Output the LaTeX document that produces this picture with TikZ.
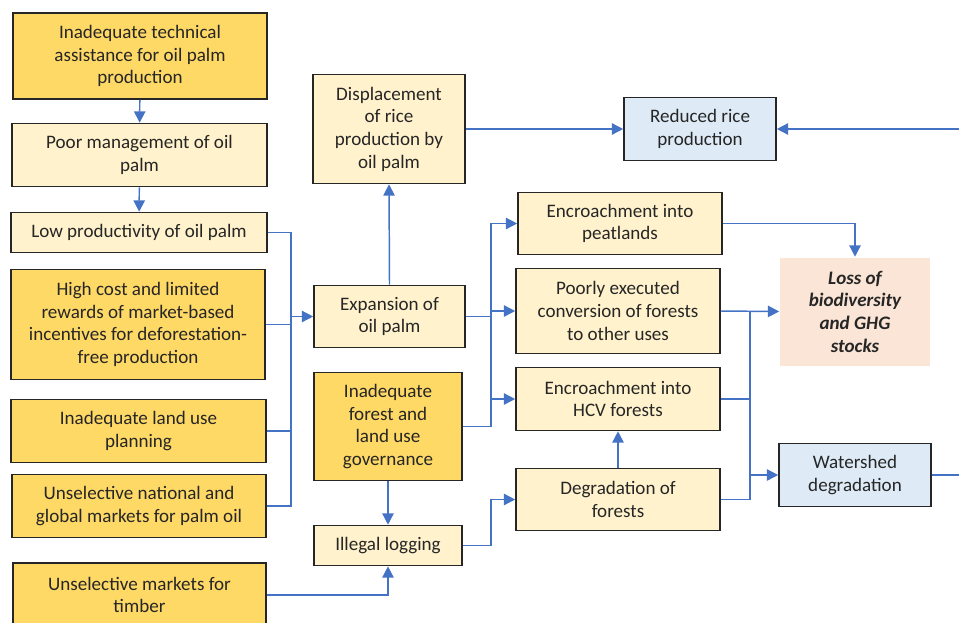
\documentclass[tikz,border=0pt]{standalone}
\usepackage{fontspec}
\setmainfont{Carlito}
\usetikzlibrary{arrows.meta}
\definecolor{dkY}{HTML}{FFD966}
\definecolor{ltY}{HTML}{FFF2CC}
\definecolor{ltB}{HTML}{DEEBF7}
\definecolor{pch}{HTML}{FBE5D6}
\definecolor{lnB}{HTML}{4472C4}
\definecolor{txt}{HTML}{262626}
\tikzset{
  box/.style={draw=txt, line width=1.2pt, align=center, inner sep=1pt, text=txt,
    font=\fontsize{14.3}{17}\selectfont},
  dk/.style={box, fill=dkY},
  lt/.style={box, fill=ltY},
  bl/.style={box, fill=ltB},
  pk/.style={box, draw=none, fill=pch, font=\fontsize{14.3}{17}\selectfont\bfseries\itshape},
  ln/.style={draw=lnB, line width=1.1pt},
  arr/.style={ln, -{Triangle[length=8.5pt,width=8.5pt]}},
  wh/.style 2 args={minimum width=#1*0.75pt, minimum height=#2*0.75pt},
}
\begin{document}
\begin{tikzpicture}[x=0.75pt,y=-0.75pt]
\useasboundingbox (0,0) rectangle (959,622);
\fill[white] (0,0) rectangle (959,622);
% left column
\node[dk,wh={254}{86}] (A) at (140,56) {Inadequate technical\\assistance for oil palm\\production};
\node[lt,wh={255}{63}] (B) at (139.5,155) {Poor management of oil\\palm};
\node[lt,wh={256}{40}] (C) at (139,232.5) {Low productivity of oil palm};
\node[dk,wh={254}{110}] (D) at (138,324.5) {High cost and limited\\rewards of market-based\\incentives for deforestation-\\free production};
\node[dk,wh={255}{63}] (E) at (138.5,431) {Inadequate land use\\planning};
\node[dk,wh={254}{63}] (F) at (139,506) {Unselective national and\\global markets for palm oil};
\node[dk,wh={253}{64}] (G) at (139.5,595) {Unselective markets for\\timber};
% middle column
\node[lt,wh={152}{109}] (H) at (389,129) {Displacement\\of rice\\production by\\oil palm};
\node[lt,wh={151}{62}] (I) at (389.5,316.5) {Expansion of\\oil palm};
\node[dk,wh={148}{108}] (J) at (388,426.5) {Inadequate\\forest and\\land use\\governance};
\node[lt,wh={148}{40}] (K) at (388,545.5) {Illegal logging};
% third column
\node[lt,wh={204}{62}] (L) at (620,223.5) {Encroachment into\\peatlands};
\node[lt,wh={204}{85}] (M) at (618,311) {Poorly executed\\conversion of forests\\to other uses};
\node[lt,wh={204}{63}] (N) at (618,399) {Encroachment into\\HCV forests};
\node[lt,wh={204}{62}] (O) at (618,499.5) {Degradation of\\forests};
% right column
\node[bl,wh={152}{63}] (P) at (700,129) {Reduced rice\\production};
\node[pk,wh={150}{108}] (Q) at (855,311.5) {Loss of\\biodiversity\\and GHG\\stocks};
\node[bl,wh={152}{63}] (R) at (855,475) {Watershed\\degradation};
% bus coordinates
\coordinate (bx) at (291,0);
\coordinate (by) at (491,0);
\coordinate (bz) at (750,0);
\coordinate (re1) at (959,129);
\coordinate (re2) at (959,475);
% connectors
\draw[arr] (A) -- (B);
\draw[arr] (B) -- (C);
\draw[ln] (C.east) -| (bx |- F.east) -- (F.east);
\draw[ln] (D.east) -- (bx |- D.east);
\draw[ln] (E.east) -- (bx |- E.east);
\draw[arr] (bx |- I.west) -- (I.west);
\draw[arr] (I.north) -- (H.south);
\draw[arr] (H.east) -- (P.west);
\draw[arr] (re1) -- (P.east);
\draw[arr] (J.east) -| (by |- L.west) -- (L.west);
\draw[ln] (I.east) -- (by |- I.east);
\draw[arr] (by |- M.west) -- (M.west);
\draw[arr] (by |- N.west) -- (N.west);
\draw[arr] (K.east) -| (by |- O.west) -- (O.west);
\draw[arr] (G.east) -| (K.south);
\draw[arr] (J.south) -- (K.north);
\draw[arr] (O.north) -- (N.south);
\draw[arr] (L.east) -| (Q.north);
\draw[arr] (M.east) -- (Q.west);
\draw[ln] (O.east) -| (bz |- M.east);
\draw[ln] (N.east) -- (bz |- N.east);
\draw[arr] (bz |- R.west) -- (R.west);
\draw[ln] (R.east) -- (re2);
\end{tikzpicture}
\end{document}
